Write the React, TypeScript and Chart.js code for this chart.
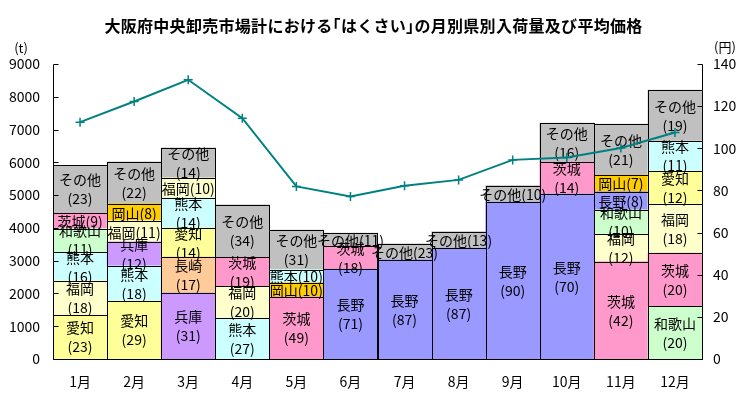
import React, { useEffect, useRef } from 'react';
import { Chart, registerables } from 'chart.js';

Chart.register(...registerables);

const FONT = "'Noto Sans CJK JP', 'Noto Sans', sans-serif";

const titleText = '大阪府中央卸売市場計における｢はくさい｣の月別県別入荷量及び平均価格';
const leftUnit = '(t)';
const rightUnit = '(円)';

const months = ['1月', '2月', '3月', '4月', '5月', '6月', '7月', '8月', '9月', '10月', '11月', '12月'];

// prefecture names per month, bottom -> top
const stackNames: string[][] = [
  ['愛知', '福岡', '熊本', '和歌山', '茨城', 'その他'],
  ['愛知', '熊本', '兵庫', '福岡', '岡山', 'その他'],
  ['兵庫', '長崎', '愛知', '熊本', '福岡', 'その他'],
  ['熊本', '福岡', '茨城', 'その他'],
  ['茨城', '岡山', '熊本', 'その他'],
  ['長野', '茨城', 'その他'],
  ['長野', 'その他'],
  ['長野', 'その他'],
  ['長野', 'その他'],
  ['長野', '茨城', 'その他'],
  ['茨城', '福岡', '和歌山', '長野', '岡山', 'その他'],
  ['和歌山', '茨城', '福岡', '愛知', '熊本', 'その他'],
];

// arrival quantity (t) per month, bottom -> top
const stackTonnes: number[][] = [
  [1344, 1048, 877, 712, 480, 1445],
  [1771, 1069, 733, 651, 510, 1283],
  [2016, 1100, 886, 916, 611, 916],
  [1252, 968, 886, 1597],
  [1903, 428, 397, 1203],
  [2740, 712, 388],
  [3024, 489],
  [3381, 507],
  [4786, 507],
  [5031, 977, 1191],
  [2972, 837, 742, 559, 510, 1549],
  [1610, 1619, 1497, 1017, 907, 1558],
];

// share (%) shown in labels, bottom -> top
const stackShares: number[][] = [
  [23, 18, 16, 11, 9, 23],
  [29, 18, 12, 11, 8, 22],
  [31, 17, 14, 14, 10, 14],
  [27, 20, 19, 34],
  [49, 10, 10, 31],
  [71, 18, 11],
  [87, 23],
  [87, 13],
  [90, 10],
  [70, 14, 16],
  [42, 12, 10, 8, 7, 21],
  [20, 20, 18, 12, 11, 19],
];

// average price (yen/kg)
const avgPrice = [112.4, 122.2, 132.5, 114.3, 81.9, 77.1, 82.2, 85.0, 94.5, 95.6, 100.1, 107.5];

const prefColors: Record<string, string> = {
  '愛知': '#FFFF99',
  '福岡': '#FFFFCC',
  '熊本': '#CCFFFF',
  '和歌山': '#CCFFCC',
  '茨城': '#FF99CC',
  'その他': '#C0C0C0',
  '岡山': '#FFCC00',
  '兵庫': '#CC99FF',
  '長崎': '#FFCC99',
  '長野': '#9999FF',
};

const LAYERS = 6;

const overlayPlugin = {
  id: 'overlay',
  beforeDatasetDraw(chart: any, args: any) {
    if (args.meta.type !== 'line') return;
    const ctx = chart.ctx as CanvasRenderingContext2D;
    ctx.save();
    ctx.strokeStyle = '#000';
    ctx.lineWidth = 1;
    for (let d = 0; d < LAYERS; d++) {
      const meta = chart.getDatasetMeta(d);
      meta.data.forEach((el: any, m: number) => {
        const v = stackTonnes[m][d];
        if (!v) return;
        const { x, y, base, width } = el.getProps(['x', 'y', 'base', 'width'], true);
        const l = Math.round(x - width / 2) + 0.5;
        const r = Math.round(x + width / 2) + 0.5;
        const t = Math.round(y) + 0.5;
        const b = Math.round(base) + 0.5;
        ctx.strokeRect(l, t, r - l, b - t);
      });
    }
    ctx.font = `14px ${FONT}`;
    ctx.fillStyle = '#000';
    ctx.textAlign = 'center';
    ctx.textBaseline = 'middle';
    for (let d = 0; d < LAYERS; d++) {
      const meta = chart.getDatasetMeta(d);
      meta.data.forEach((el: any, m: number) => {
        const v = stackTonnes[m][d];
        if (!v) return;
        const { x, y, base } = el.getProps(['x', 'y', 'base'], true);
        const h = base - y;
        const cy = (y + base) / 2;
        const name = stackNames[m][d];
        const share = stackShares[m][d];
        if (h < 22) {
          ctx.fillText(`${name}(${share})`, x, cy + 1);
        } else {
          ctx.fillText(name, x, cy - 9);
          ctx.fillText(`(${share})`, x, cy + 10);
        }
      });
    }
    ctx.restore();
  },
  afterDraw(chart: any) {
    const ctx = chart.ctx as CanvasRenderingContext2D;
    const area = chart.chartArea;
    const yS = chart.scales.y;
    const y1S = chart.scales.y1;
    ctx.save();
    ctx.strokeStyle = '#000';
    ctx.lineWidth = 1;
    const lx = Math.round(area.left) + 0.5;
    const rx = Math.round(area.right) + 0.5;
    const by = Math.round(area.bottom) + 0.5;
    const top = Math.round(yS.getPixelForValue(9000)) + 0.5;
    ctx.beginPath();
    ctx.moveTo(lx, top);
    ctx.lineTo(lx, by);
    ctx.lineTo(rx, by);
    ctx.lineTo(rx, top);
    for (let v = 0; v <= 9000; v += 1000) {
      const py = Math.round(yS.getPixelForValue(v)) + 0.5;
      ctx.moveTo(lx, py);
      ctx.lineTo(lx + 5, py);
    }
    for (let v = 0; v <= 140; v += 20) {
      const py = Math.round(y1S.getPixelForValue(v)) + 0.5;
      ctx.moveTo(rx, py);
      ctx.lineTo(rx - 5, py);
    }
    ctx.stroke();

    ctx.fillStyle = '#000';
    ctx.textAlign = 'center';
    ctx.textBaseline = 'middle';
    ctx.font = `bold 16px ${FONT}`;
    (ctx as any).letterSpacing = '0.3px';
    ctx.fillText(titleText, chart.width / 2, 26);
    (ctx as any).letterSpacing = '0px';
    ctx.font = `13px ${FONT}`;
    ctx.fillText(leftUnit, 21, 48);
    ctx.fillText(rightUnit, 725, 47);
    ctx.restore();
  },
};

export default function App() {
  const canvasRef = useRef<HTMLCanvasElement | null>(null);

  useEffect(() => {
    document.body.style.margin = '0';
    const canvas = canvasRef.current;
    if (!canvas) return;

    const barDatasets = Array.from({ length: LAYERS }, (_, d) => ({
      type: 'bar' as const,
      label: `layer${d + 1}`,
      data: months.map((_, m) => (stackTonnes[m][d] !== undefined ? stackTonnes[m][d] : null)),
      backgroundColor: months.map((_, m) => prefColors[stackNames[m][d]] || 'transparent'),
      borderWidth: 0,
      yAxisID: 'y',
      stack: 'qty',
      barPercentage: 1,
      categoryPercentage: 1,
      order: 0,
    }));

    const lineDataset = {
      type: 'line' as const,
      label: '平均価格',
      data: avgPrice,
      borderColor: '#008080',
      backgroundColor: '#008080',
      borderWidth: 2,
      pointStyle: 'cross',
      pointRadius: 4.5,
      pointBorderWidth: 1.5,
      pointBorderColor: '#008080',
      yAxisID: 'y1',
      tension: 0,
      order: -1,
    };

    const tickFont = { family: FONT, size: 14 };

    const chart = new Chart(canvas, {
      type: 'bar',
      data: {
        labels: months,
        datasets: [...barDatasets, lineDataset] as any,
      },
      options: {
        animation: false,
        responsive: true,
        maintainAspectRatio: false,
        layout: { padding: { top: 64, left: 0, right: 0, bottom: 0 } },
        plugins: {
          legend: { display: false },
          title: { display: false },
          tooltip: { enabled: false },
        },
        scales: {
          x: {
            stacked: true,
            grid: { display: false, drawTicks: false },
            border: { display: false },
            ticks: { color: '#000', font: tickFont, padding: 14, maxRotation: 0 },
            afterFit: (s: any) => { s.height = 39; },
          },
          y: {
            stacked: true,
            position: 'left',
            min: 0,
            max: 9000,
            grid: { display: false, drawTicks: false },
            border: { display: false },
            ticks: {
              stepSize: 1000,
              color: '#000',
              font: tickFont,
              padding: 13,
              callback: (v: any) => String(v),
            },
            afterFit: (s: any) => { s.width = 53; },
          },
          y1: {
            position: 'right',
            min: 0,
            max: 140,
            grid: { display: false, drawTicks: false },
            border: { display: false },
            ticks: {
              stepSize: 20,
              color: '#000',
              font: tickFont,
              padding: 11,
              callback: (v: any) => String(v),
            },
            afterFit: (s: any) => { s.width = 45; },
          },
        },
      } as any,
      plugins: [overlayPlugin],
    });

    return () => {
      chart.destroy();
    };
  }, []);

  return (
    <div style={{ position: 'absolute', left: 0, top: 0, width: 747, height: 398 }}>
      <canvas ref={canvasRef} />
    </div>
  );
}
